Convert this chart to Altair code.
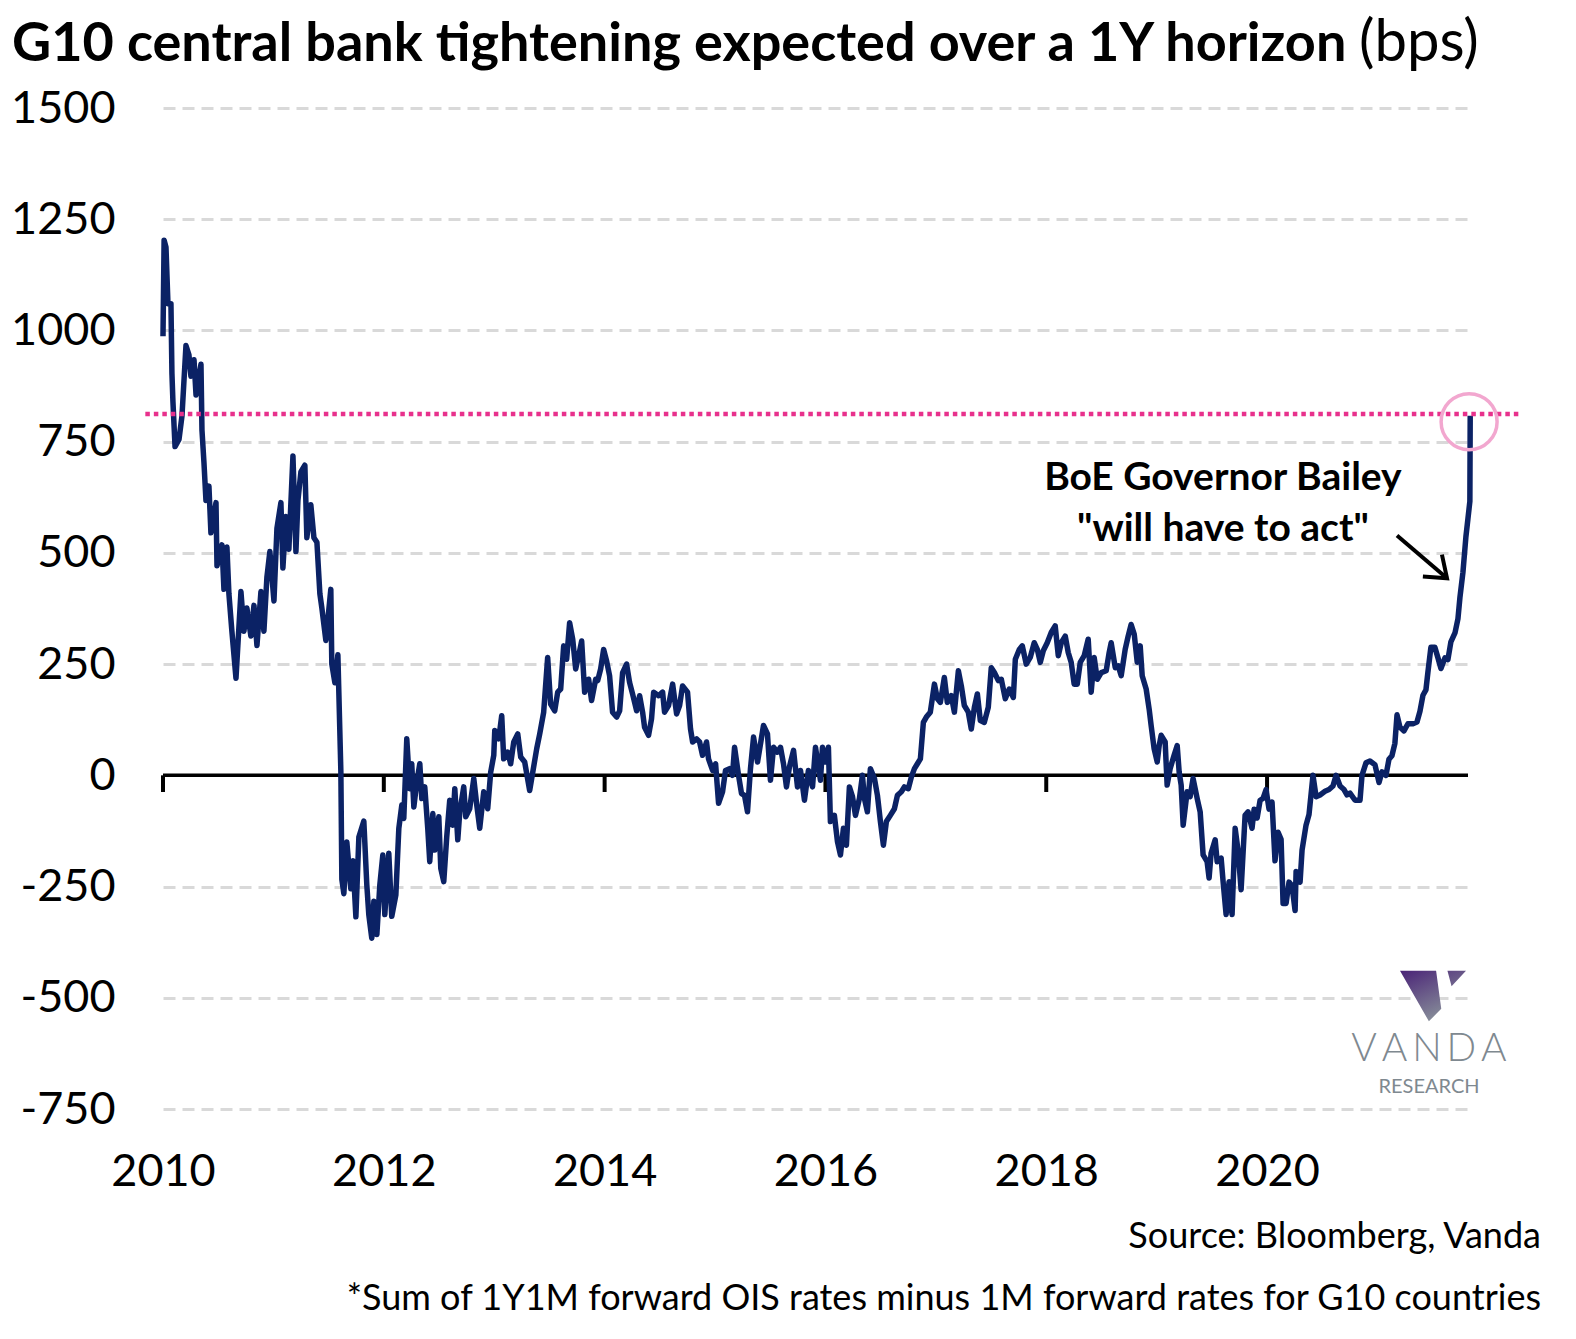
import altair as alt
import pandas as pd

# ---- data (decimal year, bps) ----
years_a = [2010.0, 2010.01, 2010.027, 2010.045, 2010.072, 2010.081, 2010.09, 2010.109, 2010.145, 2010.172,
           2010.208, 2010.235, 2010.253, 2010.281, 2010.299, 2010.344, 2010.353, 2010.371, 2010.389, 2010.416,
           2010.434, 2010.48, 2010.489, 2010.534, 2010.552, 2010.579, 2010.597, 2010.624, 2010.661, 2010.706,
           2010.733, 2010.76, 2010.796, 2010.824, 2010.851, 2010.887, 2010.914, 2010.941, 2010.968, 2011.005,
           2011.032, 2011.068, 2011.086, 2011.113, 2011.14, 2011.177, 2011.204, 2011.222, 2011.249, 2011.285,
           2011.303, 2011.339, 2011.367, 2011.394, 2011.421, 2011.439, 2011.475, 2011.52, 2011.529, 2011.557,
           2011.584, 2011.611, 2011.62, 2011.638, 2011.665, 2011.701, 2011.72, 2011.747, 2011.774, 2011.819]
values_a = [987, 1203, 1187, 1060, 1060, 903, 840, 739, 755, 808,
            966, 945, 897, 934, 855, 924, 776, 703, 618, 650,
            545, 613, 471, 518, 418, 513, 408, 324, 218, 413,
            324, 376, 313, 382, 292, 413, 324, 445, 503, 392,
            555, 613, 466, 582, 508, 718, 503, 618, 682, 697,
            534, 608, 534, 524, 408, 376, 303, 418, 250, 208,
            271, 8, -234, -266, -150, -255, -192, -318, -139, -103]

years_b = [2011.846, 2011.864, 2011.891, 2011.91, 2011.937, 2011.964, 2011.991, 2012.009, 2012.045, 2012.072,
           2012.109, 2012.136, 2012.163, 2012.181, 2012.208, 2012.235, 2012.253, 2012.272, 2012.299, 2012.326,
           2012.344, 2012.371, 2012.398, 2012.416, 2012.444, 2012.462, 2012.498, 2012.516, 2012.543, 2012.57,
           2012.597, 2012.624, 2012.643, 2012.67, 2012.688, 2012.724, 2012.742, 2012.778, 2012.815, 2012.842,
           2012.869, 2012.905, 2012.941, 2012.968, 2012.996, 2013.005, 2013.041, 2013.068, 2013.086, 2013.122,
           2013.149, 2013.177, 2013.213, 2013.24, 2013.276, 2013.321, 2013.349, 2013.385, 2013.412, 2013.448,
           2013.484, 2013.511, 2013.548, 2013.575, 2013.602, 2013.629, 2013.656, 2013.683, 2013.711, 2013.738,
           2013.774, 2013.792, 2013.819, 2013.855, 2013.882, 2013.919]
values_b = [-246, -313, -366, -283, -358, -246, -179, -313, -175, -317,
            -269, -119, -67, -97, 82, -30, 26, -71, -15, 26,
            -52, -26, -119, -194, -86, -168, -93, -209, -239, -138,
            -56, -112, -30, -145, -82, -26, -93, -75, -7, -67,
            -119, -37, -75, 7, 45, 101, 82, 134, 37, 52,
            26, 75, 93, 41, 30, -34, 7, 60, 93, 142,
            265, 160, 145, 187, 194, 291, 261, 343, 306, 239,
            280, 302, 187, 216, 168, 216]

years_c = [2013.937, 2013.964, 2013.991, 2014.018, 2014.045, 2014.072, 2014.109, 2014.136, 2014.163, 2014.199,
           2014.226, 2014.253, 2014.29, 2014.317, 2014.344, 2014.362, 2014.398, 2014.425, 2014.444, 2014.489,
           2014.525, 2014.543, 2014.579, 2014.616, 2014.652, 2014.679, 2014.706, 2014.751, 2014.778, 2014.797,
           2014.833, 2014.86, 2014.887, 2014.923, 2014.941, 2014.978, 2015.005, 2015.032, 2015.068, 2015.095,
           2015.131, 2015.158, 2015.177, 2015.213, 2015.24, 2015.267, 2015.294, 2015.321, 2015.349, 2015.385,
           2015.412, 2015.439, 2015.475, 2015.502, 2015.53, 2015.566, 2015.593, 2015.62, 2015.647, 2015.674,
           2015.711, 2015.747, 2015.774, 2015.81, 2015.846, 2015.883, 2015.91]
values_c = [213, 239, 283, 257, 224, 142, 131, 145, 231, 250,
            209, 183, 145, 179, 142, 108, 90, 127, 187, 179,
            187, 142, 157, 205, 138, 157, 201, 187, 104, 75,
            82, 75, 45, 75, 37, 11, 26, -63, -37, 11,
            15, 0, 63, 0, -41, -45, -82, 15, 86, 30,
            71, 112, 93, -11, 63, 52, 63, 26, -26, 19,
            56, -26, 11, -56, 11, -26, 63]

years_d = [2015.955, 2015.973, 2016.0, 2016.027, 2016.045, 2016.081, 2016.109, 2016.136, 2016.163, 2016.19,
           2016.217, 2016.245, 2016.272, 2016.308, 2016.335, 2016.353, 2016.38, 2016.407, 2016.444, 2016.471,
           2016.498, 2016.525, 2016.552, 2016.588, 2016.625, 2016.652, 2016.688, 2016.715, 2016.751, 2016.778,
           2016.806, 2016.833, 2016.86, 2016.887, 2016.914, 2016.95, 2016.987, 2017.014, 2017.041, 2017.077,
           2017.104, 2017.14, 2017.168, 2017.204, 2017.231, 2017.258, 2017.294, 2017.321, 2017.349, 2017.376,
           2017.403, 2017.439, 2017.475, 2017.502, 2017.53, 2017.566, 2017.593, 2017.629, 2017.665, 2017.702,
           2017.72, 2017.756, 2017.783, 2017.819, 2017.855, 2017.891, 2017.919]
values_d = [-11, 63, 30, 63, -104, -90, -149, -179, -119, -157,
            -26, -48, -90, -52, 0, -52, -82, 15, -7, -45,
            -104, -157, -104, -90, -75, -45, -37, -26, -30, -4,
            15, 26, 37, 119, 131, 142, 205, 172, 164, 220,
            164, 179, 142, 235, 201, 157, 142, 104, 153, 183,
            123, 119, 153, 242, 231, 213, 216, 172, 194, 175,
            261, 283, 291, 250, 265, 298, 283]

years_e = [2017.946, 2017.973, 2018.009, 2018.045, 2018.081, 2018.109, 2018.136, 2018.172, 2018.199, 2018.226,
           2018.253, 2018.281, 2018.308, 2018.344, 2018.38, 2018.407, 2018.434, 2018.462, 2018.498, 2018.543,
           2018.57, 2018.588, 2018.625, 2018.652, 2018.679, 2018.715, 2018.742, 2018.769, 2018.797, 2018.824,
           2018.851, 2018.869, 2018.905, 2018.932, 2018.95, 2018.977, 2019.005, 2019.023, 2019.041, 2019.077,
           2019.095, 2019.122, 2019.158, 2019.186, 2019.204, 2019.222, 2019.24, 2019.276, 2019.303, 2019.33,
           2019.367, 2019.394, 2019.421, 2019.457, 2019.475, 2019.493, 2019.53, 2019.548, 2019.584, 2019.602,
           2019.629, 2019.656, 2019.683, 2019.711, 2019.738, 2019.765, 2019.801, 2019.828, 2019.864]
values_e = [254, 280, 298, 321, 336, 269, 298, 313, 276, 254,
            205, 205, 254, 269, 306, 187, 265, 216, 231, 235,
            276, 298, 242, 246, 224, 283, 313, 339, 317, 254,
            291, 224, 194, 149, 112, 60, 30, 67, 90, 75,
            -22, 15, 45, 67, 7, -22, -112, -37, -48, -7,
            -52, -82, -179, -194, -231, -175, -145, -194, -186, -239,
            -313, -239, -313, -119, -171, -257, -90, -82, -119]

years_f = [2019.883, 2019.91, 2019.937, 2019.964, 2019.991, 2020.018, 2020.045, 2020.072, 2020.1, 2020.127,
           2020.145, 2020.172, 2020.199, 2020.226, 2020.254, 2020.263, 2020.299, 2020.317, 2020.353, 2020.38,
           2020.416, 2020.444, 2020.48, 2020.525, 2020.561, 2020.597, 2020.625, 2020.661, 2020.697, 2020.724,
           2020.751, 2020.797, 2020.842, 2020.86, 2020.896, 2020.932, 2020.977, 2021.014, 2021.041, 2021.077,
           2021.104, 2021.131, 2021.158, 2021.177, 2021.204, 2021.24, 2021.276, 2021.321, 2021.358, 2021.385,
           2021.412, 2021.439, 2021.457, 2021.484, 2021.52, 2021.548, 2021.575, 2021.611, 2021.638, 2021.665,
           2021.702, 2021.729, 2021.747, 2021.774, 2021.801, 2021.819, 2021.837, 2021.84]
values_f = [-76, -96, -56, -52, -32, -76, -60, -192, -128, -144,
            -288, -288, -240, -248, -304, -216, -240, -168, -112, -88,
            0, -48, -44, -36, -32, -24, 0, -24, -32, -44,
            -40, -56, -56, 0, 28, 32, 24, -16, 8, 0,
            36, 44, 72, 136, 108, 100, 116, 116, 120, 144,
            180, 192, 232, 288, 288, 264, 240, 264, 260, 300,
            320, 352, 400, 456, 536, 576, 616, 808]

y_ticks = [-750, -500, -250, 0, 250, 500, 750, 1000, 1250, 1500]
x_ticks = [2010, 2012, 2014, 2016, 2018, 2020]
previous_high = 812          # dotted reference level
highlight = (2021.83, 795)   # circled latest point

title_main = "G10 central bank tightening expected over a 1Y horizon"
title_unit = "(bps)"
annotation_lines = ["BoE Governor Bailey", "\"will have to act\""]
source_text = "Source: Bloomberg, Vanda"
footnote_text = "*Sum of 1Y1M forward OIS rates minus 1M forward rates for G10 countries"

# ---- build tables ----
years, values = [], []
for ys, vs in [(years_a, values_a), (years_b, values_b), (years_c, values_c),
               (years_d, values_d), (years_e, values_e), (years_f, values_f)]:
    assert len(ys) == len(vs)
    years += ys
    values += vs
series = pd.DataFrame({"t": years, "v": values})

FONT = "Lato"
W, H = 1305, 1001

xscale = alt.Scale(domain=[2010, 2021.82], nice=False, zero=False)
yscale = alt.Scale(domain=[-750, 1500], nice=False, zero=False)
xaxis = alt.Axis(values=x_ticks, format="d", grid=False, domain=False, ticks=False,
                 labelPadding=40, labelFontSize=45, labelFont=FONT, labelColor="black",
                 title=None, labelFlush=False)
yaxis = alt.Axis(values=y_ticks, grid=True, gridDash=[12, 7], gridColor="#d9d9d9", gridWidth=3,
                 domain=False, ticks=False, labelPadding=48, labelFontSize=45, labelFont=FONT,
                 labelColor="black", title=None,
                 labelExpr="datum.value < 0 ? '-' + abs(datum.value) : '' + datum.value")
X = alt.X("t:Q", scale=xscale, axis=xaxis)
Y = alt.Y("v:Q", scale=yscale, axis=yaxis)

zero_df = pd.DataFrame({"v": [0]})
zero_line = alt.Chart(zero_df).mark_rule(color="black", strokeWidth=3.5).encode(y=Y)

tick_df = pd.DataFrame({"t": x_ticks, "v": [0] * len(x_ticks)})
zero_ticks = alt.Chart(tick_df).mark_rule(color="black", strokeWidth=4).encode(
    x=X, y=Y, y2=alt.value(684))

line = alt.Chart(series).mark_line(color="#0b2265", strokeWidth=5.5, strokeJoin="round").encode(x=X, y=Y)

ref_df = pd.DataFrame({"t": [2009.84], "t2": [2022.28], "v": [previous_high]})
ref_line = alt.Chart(ref_df).mark_rule(color="#e8318c", strokeWidth=4.5, strokeDash=[4.5, 4]).encode(
    x=X, x2="t2:Q", y=Y)

circ_df = pd.DataFrame({"t": [highlight[0]], "v": [highlight[1]]})
circle = alt.Chart(circ_df).mark_point(shape="circle", size=3136, filled=False,
                                       color="#f2a7cf", strokeWidth=3.5, opacity=1).encode(x=X, y=Y)

ann_df = pd.DataFrame({"t": [2019.6, 2019.6], "v": [641, 526], "txt": annotation_lines})
annotation = alt.Chart(ann_df).mark_text(font=FONT, fontSize=39, fontWeight="bold", color="black",
                                         align="center", baseline="alphabetic").encode(
    x=X, y=Y, text="txt:N")

arrow_df = pd.DataFrame({"t": [2021.177], "v": [539], "t2": [2021.63], "v2": [443]})
arrow_shaft = alt.Chart(arrow_df).mark_rule(color="black", strokeWidth=4).encode(
    x=X, y=Y, x2="t2:Q", y2="v2:Q")
head_df = pd.DataFrame({"t": [2021.63], "v": [443]})
arrow_head = alt.Chart(head_df).mark_point(shape="M -1 -0.75 L 0 0 L -1 0.75", angle=41, size=1500,
                                           filled=False, color="black", strokeWidth=4,
                                           opacity=1).encode(x=X, y=Y)

def text_layer(txt, x, y, size, weight="normal", align="left", color="black"):
    df = pd.DataFrame({"txt": [txt]})
    return alt.Chart(df).mark_text(font=FONT, fontSize=size, fontWeight=weight, align=align,
                                   baseline="alphabetic", color=color).encode(
        x=alt.value(x), y=alt.value(y), text="txt:N")

title1 = text_layer(title_main, -151, -47, 54, "bold")
title2 = text_layer(title_unit, 1196, -47, 58, "normal")
source = text_layer(source_text, 1378, 1140, 36, align="right")
foot = text_layer(footnote_text, 1378, 1202, 36, align="right")

logo_df = pd.DataFrame({"k": [1]})
logo_path = ("M -1 -0.766 L 0.094 -0.766 L 0.25 0.39 L -0.125 0.766 Z "
             "M 0.4375 -0.766 L 1 -0.766 L 0.5625 -0.297 Z")
logo_mark = alt.Chart(logo_df).mark_point(
    shape=logo_path, size=4356, filled=True, strokeWidth=0, opacity=1,
    fill=alt.Gradient(gradient="linear",
                      stops=[alt.GradientStop(color="#4a2377", offset=0),
                             alt.GradientStop(color="#8a939b", offset=1)],
                      x1=0, y1=0, x2=0.6, y2=1)
).encode(x=alt.value(1270), y=alt.value(888))
vanda = text_layer("V\u2009A\u2009N\u2009D\u2009A", 1266, 953, 39, 300, align="center", color="#7f8990")
research = text_layer("RESEARCH", 1266, 985, 20, "normal", align="center", color="#7f8990")

chart = alt.layer(
    zero_line, zero_ticks, line, ref_line, circle, annotation, arrow_shaft, arrow_head,
    title1, title2, source, foot, logo_mark, vanda, research
).properties(
    width=W, height=H,
    padding={"left": 163, "top": 108, "right": 108, "bottom": 230},
    autosize=alt.AutoSizeParams(type="none"),
    background="white"
).configure_view(stroke=None)

chart.save("out.html", embed_options={"renderer": "svg", "actions": False})
